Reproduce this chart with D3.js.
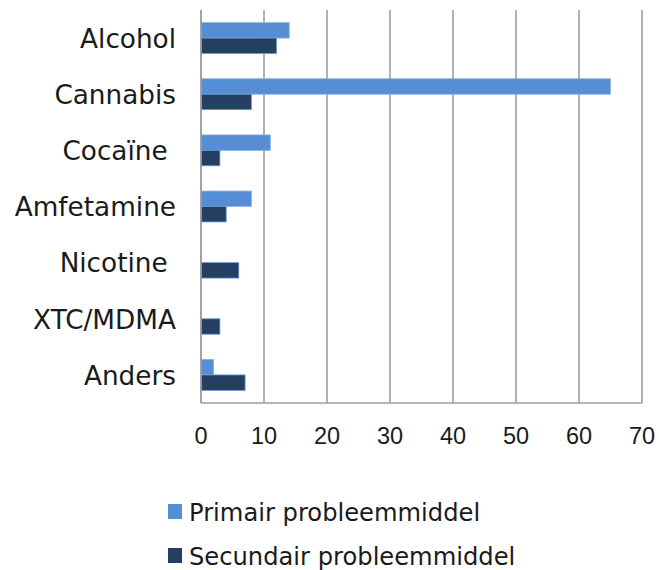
<!DOCTYPE html>
<html>
<head>
<meta charset="utf-8">
<script src="https://cdn.jsdelivr.net/npm/d3@7"></script>
<style>
  html, body { margin: 0; padding: 0; background: #fff; }
  svg { display: block; }
  text { white-space: pre; }
</style>
</head>
<body>
<svg id="chart" width="659" height="570"></svg>
<script>
const categories = ["Alcohol", "Cannabis", "Cocaïne ", "Amfetamine", "Nicotine ", "XTC/MDMA", "Anders"];
const primair = [14, 65, 11, 8, 0, 0, 2];
const secundair = [12, 8, 3, 4, 6, 3, 7];
const seriesNames = ["Primair probleemmiddel", "Secundair probleemmiddel"];
const seriesColors = ["#558ed5", "#243f60"];
const tickValues = [0, 10, 20, 30, 40, 50, 60, 70];

const svg = d3.select("#chart");
const plotLeft = 201, plotRight = 642, plotTop = 10, plotBottom = 403;

const x = d3.scaleLinear().domain([0, 70]).range([plotLeft, plotRight]);
const y = d3.scaleBand().domain(categories).range([plotTop, plotBottom])
  .paddingInner(0.45).paddingOuter(0.225);
const sub = d3.scaleBand().domain([0, 1]).range([0, y.bandwidth()]);

const gridColor = "#9f9f9f";

// gridlines
svg.append("g").selectAll("line").data(tickValues).join("line")
  .attr("x1", d => x(d)).attr("x2", d => x(d))
  .attr("y1", plotTop).attr("y2", plotBottom)
  .attr("stroke", gridColor).attr("stroke-width", 1.6);
// bottom axis line
svg.append("line").attr("x1", x(0)).attr("x2", x(70))
  .attr("y1", plotBottom).attr("y2", plotBottom)
  .attr("stroke", gridColor).attr("stroke-width", 1.6);

const data = categories.map((c, i) => ({ c, vals: [primair[i], secundair[i]] }));

const groups = svg.append("g").selectAll("g").data(data).join("g")
  .attr("transform", d => `translate(0,${y(d.c)})`);
groups.selectAll("rect").data(d => d.vals.map((v, k) => ({ v, k })).filter(e => e.v > 0))
  .join("rect")
  .attr("x", x(0))
  .attr("y", e => sub(e.k))
  .attr("width", e => x(e.v) - x(0))
  .attr("height", sub.bandwidth())
  .attr("fill", e => seriesColors[e.k])
  .attr("stroke", e => e.k === 1 ? "#6a9ad6" : "#8ab0e2")
  .attr("stroke-width", 0.8);

// left axis line
svg.append("line").attr("x1", x(0)).attr("x2", x(0))
  .attr("y1", plotTop).attr("y2", plotBottom)
  .attr("stroke", gridColor).attr("stroke-width", 1.6);

// category labels
svg.append("g").selectAll("text").data(categories).join("text")
  .attr("x", 176)
  .attr("y", d => y(d) + y.bandwidth() / 2 + 9.8)
  .attr("text-anchor", "end")
  .attr("font-family", "DejaVu Sans, Verdana, sans-serif")
  .attr("font-size", 26.3)
  .attr("fill", "#1a1a1a")
  .text(d => d);

// x tick labels
svg.append("g").selectAll("text").data(tickValues).join("text")
  .attr("x", d => x(d))
  .attr("y", 444)
  .attr("text-anchor", "middle")
  .attr("font-family", "Liberation Sans, Arial, sans-serif")
  .attr("font-size", 23.5)
  .attr("fill", "#1a1a1a")
  .text(d => d);

// legend
const legend = svg.append("g").selectAll("g").data(seriesNames).join("g")
  .attr("transform", (d, i) => `translate(168,${504 + i * 44})`);
legend.append("rect").attr("width", 14).attr("height", 15)
  .attr("fill", (d, i) => seriesColors[i]);
legend.append("text").attr("x", 21).attr("y", 17)
  .attr("font-family", "DejaVu Sans, Verdana, sans-serif")
  .attr("font-size", 24.2)
  .attr("fill", "#1a1a1a")
  .text(d => d);
</script>
</body>
</html>
